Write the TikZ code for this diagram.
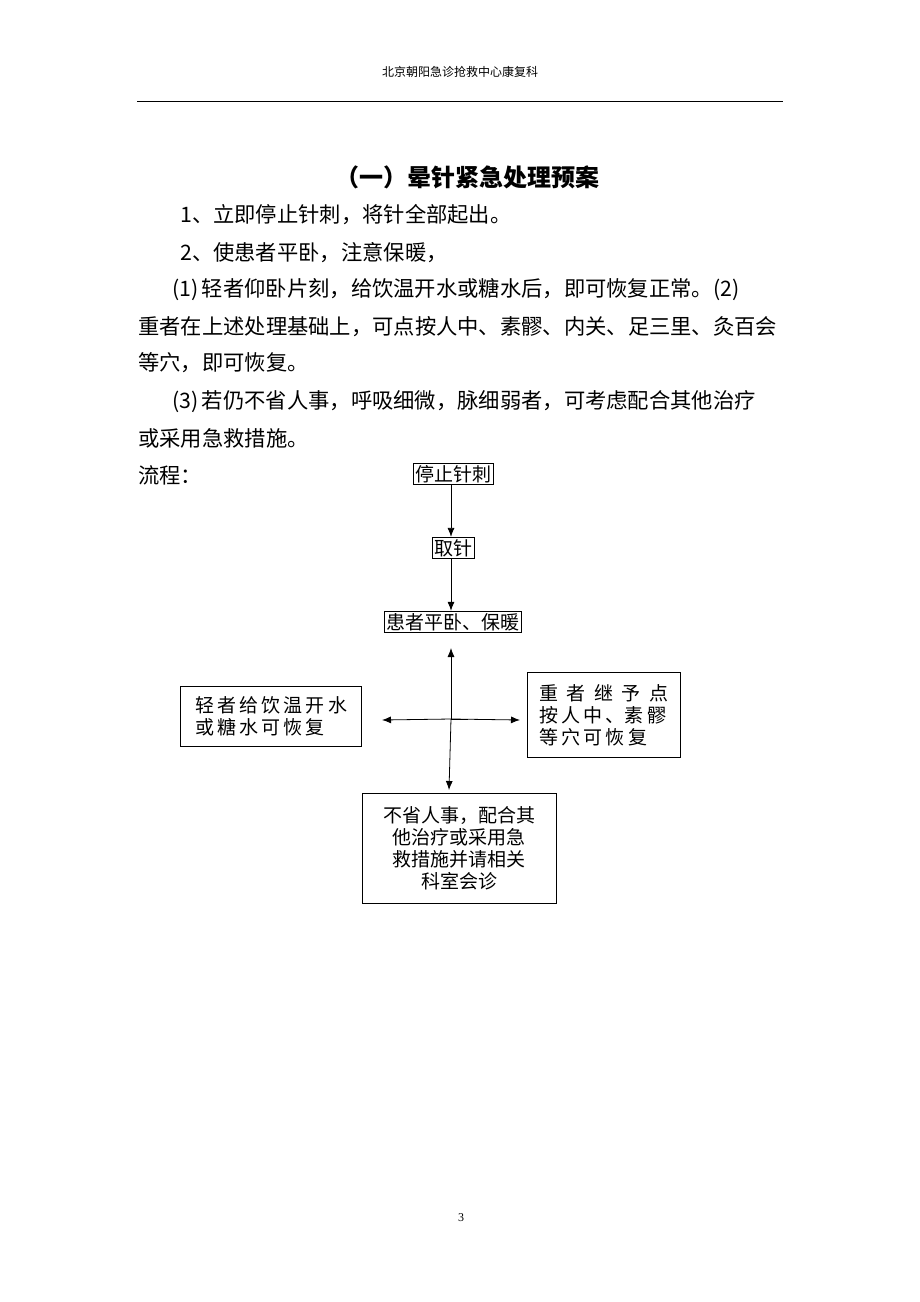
\documentclass[tikz,border=0pt]{standalone}
\usepackage{fontspec}
\setmainfont{Liberation Serif}
\newfontfamily\cjk{Noto Sans CJK SC}
\usetikzlibrary{positioning}
\tikzset{
  flowbox/.style={draw, thick, inner sep=2pt, font=\cjk\fontsize{19}{22}\selectfont},
  bodyline/.style={anchor=west, inner sep=0pt, font=\cjk\fontsize{21.3}{24}\selectfont},
  flowarrow/.style={thick, -{Latex[length=9pt,width=7pt]}}
}
\usetikzlibrary{arrows.meta}
\begin{document}
\begin{tikzpicture}[x=1pt,y=-1pt]
  \useasboundingbox (0,0) rectangle (920,1302);
  % header
  \node[font=\cjk\fontsize{12}{14}\selectfont] (head) at (460,72) {北京朝阳急诊抢救中心康复科};
  \draw[thick] (137,101) -- (783,101);
  \node[font=\cjk\bfseries\fontsize{24}{28}\selectfont] (title) at (467,177) {（一）晕针紧急处理预案};
  % body text
  \node[bodyline] (l1) at (180,215) {1、立即停止针刺，将针全部起出。};
  \node[bodyline] (l2) at (180,253) {2、使患者平卧，注意保暖，};
  \node[bodyline] (l3) at (172,290) {(1)\,轻者仰卧片刻，给饮温开水或糖水后，即可恢复正常。(2)};
  \node[bodyline] (l4) at (138,327) {重者在上述处理基础上，可点按人中、素髎、内关、足三里、灸百会};
  \node[bodyline] (l5) at (138,363) {等穴，即可恢复。};
  \node[bodyline] (l6) at (172,402) {(3)\,若仍不省人事，呼吸细微，脉细弱者，可考虑配合其他治疗};
  \node[bodyline] (l7) at (138,438) {或采用急救措施。};
  \node[bodyline] (l8) at (138,475) {流程：};
  % flow chart
  \node[flowbox] (stop) at (453,474) {停止针刺};
  \node[flowbox] (take) at (453,548) {取针};
  \node[flowbox] (lie) at (453,622) {患者平卧、保暖};
  \node[flowbox, minimum width=181pt, minimum height=60pt, align=left] (light) at (271,716) {轻\,者\,给\,饮\,温\,开\,水\\或\,糖\,水\,可\,恢\,复};
  \node[flowbox, minimum width=153pt, minimum height=85pt, align=left] (heavy) at (604,715) {重\ \ 者\ \ 继\ \ 予\ \ 点\\按\,人\,中\,、素\,髎\\等\,穴\,可\,恢\,复};
  \node[flowbox, minimum width=194pt, minimum height=110pt, align=center] (coma) at (459,848) {不省人事，配合其\\他治疗或采用急\\救措施并请相关\\科室会诊};
  \coordinate (cross) at (451,719);
  \draw[flowarrow] (stop.south -| cross) -- (take.north -| cross);
  \draw[flowarrow] (take.south -| cross) -- (lie.north -| cross);
  \draw[flowarrow] (cross) -- (451,648);
  \draw[flowarrow] (cross) -- (449,790);
  \draw[flowarrow] (cross) -- (382,720);
  \draw[flowarrow] (cross) -- (520,720);
  \draw[thick] (cross) -- (468,719);
  % page number
  \node[font=\fontsize{12}{14}\selectfont] (page) at (461,1218) {3};
\end{tikzpicture}
\end{document}
